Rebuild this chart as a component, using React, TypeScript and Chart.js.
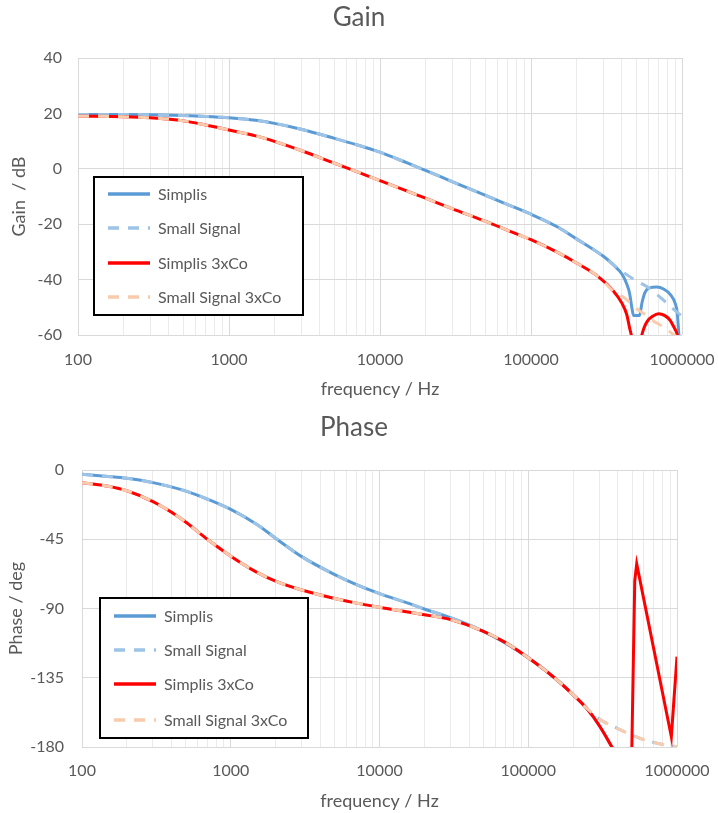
import React, { useEffect, useRef } from 'react';
import { Chart, registerables } from 'chart.js';

Chart.register(...registerables);

// ---------- axis ticks ----------
const freqGridTicks = [
  100, 200, 300, 400, 500, 600, 700, 800, 900,
  1000, 2000, 3000, 4000, 5000, 6000, 7000, 8000, 9000,
  10000, 20000, 30000, 40000, 50000, 60000, 70000, 80000, 90000,
  100000, 200000, 300000, 400000, 500000, 600000, 700000, 800000, 900000,
  1000000,
];
const freqLabelTicks = [100, 1000, 10000, 100000, 1000000];
const gainTicks = [-60, -40, -20, 0, 20, 40];
const phaseTicks = [-180, -135, -90, -45, 0];

const seriesNames = ['Simplis', 'Small Signal', 'Simplis 3xCo', 'Small Signal 3xCo'];

// ---------- Gain (dB) ----------
const gainSimplisFreq = [100, 200, 300, 500, 700, 1000, 1500, 2000, 3000, 5000, 7000, 10000, 15000, 20000, 30000, 50000, 70000, 100000, 150000, 200000, 300000, 350000, 400000, 430000, 450000, 465000, 478000, 522000, 545000, 570000, 610000, 680000, 760000, 840000, 900000, 930000, 960000, 1000000];
const gainSimplis = [19.6, 19.6, 19.5, 19.2, 18.9, 18.4, 17.5, 16.4, 14.3, 11.0, 8.7, 6.0, 2.2, -0.6, -4.6, -9.6, -12.9, -16.4, -21.0, -25.3, -31.5, -34.6, -38.0, -41.5, -45.0, -50.0, -53.0, -53.0, -48.0, -44.5, -43.0, -42.7, -43.5, -45.5, -48.5, -52.0, -62.0, -70.0];

const gainSmallFreq = [100, 200, 300, 500, 700, 1000, 1500, 2000, 3000, 5000, 7000, 10000, 15000, 20000, 30000, 50000, 70000, 100000, 150000, 200000, 300000, 350000, 430000, 500000, 584000, 660000, 740000, 850000, 1000000];
const gainSmall = [19.6, 19.6, 19.5, 19.2, 18.9, 18.4, 17.5, 16.4, 14.3, 11.0, 8.7, 6.0, 2.2, -0.6, -4.6, -9.6, -12.9, -16.4, -21.0, -25.3, -31.5, -34.6, -38.2, -40.5, -42.5, -44.8, -47.0, -50.0, -53.3];

const gain3xFreq = [100, 200, 300, 500, 700, 1000, 1500, 2000, 3000, 5000, 7000, 10000, 15000, 20000, 30000, 50000, 70000, 100000, 150000, 200000, 280000, 350000, 400000, 430000, 450000, 465000, 500000, 540000, 560000, 590000, 640000, 700000, 770000, 835000, 880000, 925000, 960000, 1000000];
const gain3x = [19.0, 18.8, 18.4, 17.3, 15.8, 14.0, 11.9, 9.9, 6.6, 2.0, -1.0, -4.3, -8.0, -10.6, -14.4, -19.0, -22.2, -25.6, -30.2, -34.0, -39.0, -44.0, -48.5, -52.5, -57.5, -61.0, -75.0, -60.5, -57.5, -55.0, -53.2, -52.3, -53.0, -54.7, -57.0, -59.5, -64.0, -72.0];

const gainSmall3xFreq = [100, 200, 300, 500, 700, 1000, 1500, 2000, 3000, 5000, 7000, 10000, 15000, 20000, 30000, 50000, 70000, 100000, 150000, 200000, 280000, 350000, 408000, 453000, 500000, 584000, 650000, 740000, 877000, 1000000];
const gainSmall3x = [19.0, 18.8, 18.4, 17.3, 15.8, 14.0, 11.9, 9.9, 6.6, 2.0, -1.0, -4.3, -8.0, -10.6, -14.4, -19.0, -22.2, -25.6, -30.2, -34.0, -39.0, -44.0, -46.3, -48.3, -50.5, -53.0, -55.0, -56.8, -59.8, -62.0];

// ---------- Phase (deg) ----------
const phaseSimplisFreq = [100, 150, 200, 300, 500, 700, 1000, 1500, 2000, 3000, 5000, 7000, 10000, 15000, 20000, 30000, 50000, 70000, 100000, 150000, 200000, 250000, 300000, 370000, 450000, 600000, 1000000];
const phaseSimplis = [-2.8, -4.2, -5.4, -8.2, -13.7, -19.0, -25.6, -35.4, -44.3, -56.3, -68.0, -74.5, -80.3, -86.0, -90.3, -96.0, -104.8, -112.4, -122.0, -135.0, -146.0, -155.5, -166.0, -181.0, -200.0, -220.0, -240.0];

const phaseSmallFreq = [100, 150, 200, 300, 500, 700, 1000, 1500, 2000, 3000, 5000, 7000, 10000, 15000, 20000, 30000, 50000, 70000, 100000, 150000, 200000, 245000, 308000, 400000, 490000, 600000, 775000, 1000000];
const phaseSmall = [-2.8, -4.2, -5.4, -8.2, -13.7, -19.0, -25.6, -35.4, -44.3, -56.3, -68.0, -74.5, -80.3, -86.0, -90.3, -96.0, -104.8, -112.4, -122.0, -135.0, -146.0, -154.5, -162.4, -168.0, -172.0, -175.3, -178.0, -179.8];

const phase3xFreq = [100, 150, 200, 300, 400, 500, 700, 1000, 1500, 2000, 3000, 5000, 7000, 10000, 20000, 30000, 50000, 70000, 100000, 150000, 200000, 250000, 300000, 370000, 430000, 490000, 520000, 536000, 916000, 1000000];
const phase3x = [-8.2, -10.6, -13.5, -20.5, -27.5, -34.0, -45.2, -56.0, -66.5, -72.2, -78.0, -83.5, -86.5, -89.2, -94.0, -97.2, -104.8, -112.0, -122.0, -135.0, -146.0, -155.5, -166.0, -181.0, -200.0, -215.0, -72.0, -61.0, -173.3, -121.3];

const phaseSmall3xFreq = [100, 150, 200, 300, 400, 500, 700, 1000, 1500, 2000, 3000, 5000, 7000, 10000, 20000, 30000, 50000, 70000, 100000, 150000, 200000, 245000, 308000, 400000, 490000, 600000, 775000, 1000000];
const phaseSmall3x = [-8.2, -10.6, -13.5, -20.5, -27.5, -34.0, -45.2, -56.0, -66.5, -72.2, -78.0, -83.5, -86.5, -89.2, -94.0, -97.2, -104.8, -112.0, -122.0, -135.0, -146.0, -154.5, -162.4, -168.0, -172.0, -175.3, -178.0, -179.8];

// frequency where the Simplis 3xCo phase stops being a smooth curve
const phase3xBreakFreq = 370000;

// ---------- styles ----------
const seriesColors = ['#5b9bd5', '#9dc3e6', '#ff0000', '#f8cbad'];
const seriesDashes: number[][] = [[], [11, 9], [], [11, 9]];
const seriesOrders = [4, 3, 2, 1];
const TEXT = '#595959';
const FONT = 'Lato, "Open Sans", "DejaVu Sans", sans-serif';

function seriesDataset(i: number, f: number[], v: number[], extra: any = {}) {
  return {
    label: seriesNames[i],
    data: f.map((x, k) => ({ x, y: v[k] })),
    borderColor: seriesColors[i],
    backgroundColor: seriesColors[i],
    borderDash: seriesDashes[i],
    borderWidth: 3,
    order: seriesOrders[i],
    pointRadius: 0,
    pointHoverRadius: 0,
    fill: false,
    cubicInterpolationMode: 'monotone',
    borderCapStyle: 'butt',
    borderJoinStyle: 'round',
    ...extra,
  };
}

function boxLegend(o: { dx: number; dy: number; w: number; h: number; rows: number[] }) {
  return {
    id: 'boxLegend',
    afterDatasetsDraw(chart: any) {
      const { ctx, chartArea } = chart;
      const x0 = Math.round(chartArea.left + o.dx);
      const y0 = Math.round(chartArea.top + o.dy);
      ctx.save();
      ctx.fillStyle = '#ffffff';
      ctx.fillRect(x0, y0, o.w, o.h);
      ctx.lineWidth = 2;
      ctx.strokeStyle = '#000000';
      ctx.setLineDash([]);
      ctx.strokeRect(x0, y0, o.w, o.h);
      const items = chart.data.datasets.filter((d: any) => d.inLegend !== false);
      items.forEach((d: any, i: number) => {
        const y = y0 + o.rows[i];
        ctx.beginPath();
        ctx.setLineDash(d.borderDash || []);
        ctx.lineWidth = 3.5;
        ctx.strokeStyle = d.borderColor;
        ctx.moveTo(x0 + 14, y);
        ctx.lineTo(x0 + 56, y);
        ctx.stroke();
        ctx.setLineDash([]);
        ctx.fillStyle = TEXT;
        ctx.font = '16px ' + FONT;
        ctx.textAlign = 'left';
        ctx.textBaseline = 'middle';
        ctx.fillText(d.label, x0 + 64, y + 1);
      });
      ctx.restore();
    },
  };
}

interface Panel {
  title: string;
  titlePad: { top: number; bottom: number };
  yTitle: string;
  yTitlePad: number;
  yTicks: number[];
  yTickPad: number;
  axisWidth: number;
  axisHeight: number;
  layoutRight: number;
  plotRight: number;
  xTickPad: number;
  xTitlePad: number;
  datasets: any[];
  legend: { dx: number; dy: number; w: number; h: number; rows: number[] };
}

function makeConfig(p: Panel): any {
  return {
    type: 'line',
    data: { datasets: p.datasets },
    plugins: [boxLegend(p.legend)],
    options: {
      animation: false,
      responsive: false,
      events: [],
      layout: { padding: { left: 0, right: p.layoutRight, top: 0, bottom: 0 } },
      plugins: {
        legend: { display: false },
        tooltip: { enabled: false },
        title: {
          display: true,
          text: p.title,
          color: TEXT,
          font: { size: 26, weight: 'normal', family: FONT },
          padding: p.titlePad,
        },
      },
      scales: {
        x: {
          type: 'logarithmic',
          min: freqLabelTicks[0],
          max: freqLabelTicks[freqLabelTicks.length - 1],
          afterBuildTicks: (s: any) => {
            s.ticks = freqGridTicks.map((value) => ({ value }));
          },
          afterFit: (s: any) => {
            s.height = p.axisHeight;
            s.paddingLeft = 0;
            s.paddingRight = p.plotRight;
          },
          ticks: {
            autoSkip: false,
            maxRotation: 0,
            minRotation: 0,
            padding: p.xTickPad,
            color: TEXT,
            font: { size: 16, family: FONT },
            callback: (v: any) => (freqLabelTicks.includes(Number(v)) ? String(v) : ''),
          },
          grid: {
            drawTicks: false,
            lineWidth: 1,
            color: (c: any) =>
              c.tick && freqLabelTicks.includes(c.tick.value) ? '#d9d9d9' : '#ebebeb',
          },
          border: { display: false },
          title: {
            display: true,
            text: 'frequency / Hz',
            color: TEXT,
            font: { size: 18, family: FONT },
            padding: { top: 0, bottom: p.xTitlePad },
          },
        },
        y: {
          type: 'linear',
          min: p.yTicks[0],
          max: p.yTicks[p.yTicks.length - 1],
          afterBuildTicks: (s: any) => {
            s.ticks = p.yTicks.map((value) => ({ value }));
          },
          afterFit: (s: any) => {
            s.width = p.axisWidth;
            s.paddingTop = 0;
            s.paddingBottom = 0;
          },
          ticks: {
            padding: p.yTickPad,
            color: TEXT,
            font: { size: 16, family: FONT },
          },
          grid: { drawTicks: false, color: '#d9d9d9', lineWidth: 1 },
          border: { display: false },
          title: {
            display: true,
            text: p.yTitle,
            color: TEXT,
            font: { size: 18, family: FONT },
            padding: { top: p.yTitlePad, bottom: 0 },
          },
        },
      },
    },
  };
}

function gainPanel(): Panel {
  return {
    title: 'Gain',
    titlePad: { top: 2, bottom: 24.8 },
    yTitle: 'Gain  / dB',
    yTitlePad: 8,
    yTicks: gainTicks,
    yTickPad: 16,
    axisWidth: 78,
    axisHeight: 70,
    layoutRight: 0,
    plotRight: 36,
    xTickPad: 15,
    xTitlePad: 5,
    datasets: [
      seriesDataset(0, gainSimplisFreq, gainSimplis),
      seriesDataset(1, gainSmallFreq, gainSmall),
      seriesDataset(2, gain3xFreq, gain3x),
      seriesDataset(3, gainSmall3xFreq, gainSmall3x),
    ],
    legend: { dx: 16, dy: 119, w: 209, h: 138, rows: [17, 51, 86, 120] },
  };
}

function phasePanel(): Panel {
  const k = phase3xFreq.indexOf(phase3xBreakFreq);
  return {
    title: 'Phase',
    titlePad: { top: 7.4, bottom: 26.4 },
    yTitle: 'Phase / deg',
    yTitlePad: 5,
    yTicks: phaseTicks,
    yTickPad: 18,
    axisWidth: 82,
    axisHeight: 66,
    layoutRight: 10,
    plotRight: 41,
    xTickPad: 14,
    xTitlePad: 1,
    datasets: [
      seriesDataset(0, phaseSimplisFreq, phaseSimplis),
      seriesDataset(1, phaseSmallFreq, phaseSmall),
      seriesDataset(2, phase3xFreq.slice(0, k + 1), phase3x.slice(0, k + 1)),
      seriesDataset(2, phase3xFreq.slice(k), phase3x.slice(k), {
        cubicInterpolationMode: 'default',
        tension: 0,
        borderJoinStyle: 'miter',
        inLegend: false,
      }),
      seriesDataset(3, phaseSmall3xFreq, phaseSmall3x),
    ],
    legend: { dx: 18, dy: 128, w: 208, h: 140, rows: [18, 52, 86, 122] },
  };
}

export default function App() {
  const gainRef = useRef<HTMLCanvasElement>(null);
  const phaseRef = useRef<HTMLCanvasElement>(null);

  useEffect(() => {
    Chart.defaults.font.family = FONT;
    const g = new Chart(gainRef.current as HTMLCanvasElement, makeConfig(gainPanel()));
    const p = new Chart(phaseRef.current as HTMLCanvasElement, makeConfig(phasePanel()));
    return () => {
      g.destroy();
      p.destroy();
    };
  }, []);

  return (
    <div style={{ position: 'absolute', left: 0, top: 0, width: 718, height: 813, background: '#ffffff' }}>
      <canvas ref={gainRef} width={718} height={405} style={{ position: 'absolute', left: 0, top: 0, width: 718, height: 405 }} />
      <canvas ref={phaseRef} width={718} height={408} style={{ position: 'absolute', left: 0, top: 405, width: 718, height: 408 }} />
    </div>
  );
}
